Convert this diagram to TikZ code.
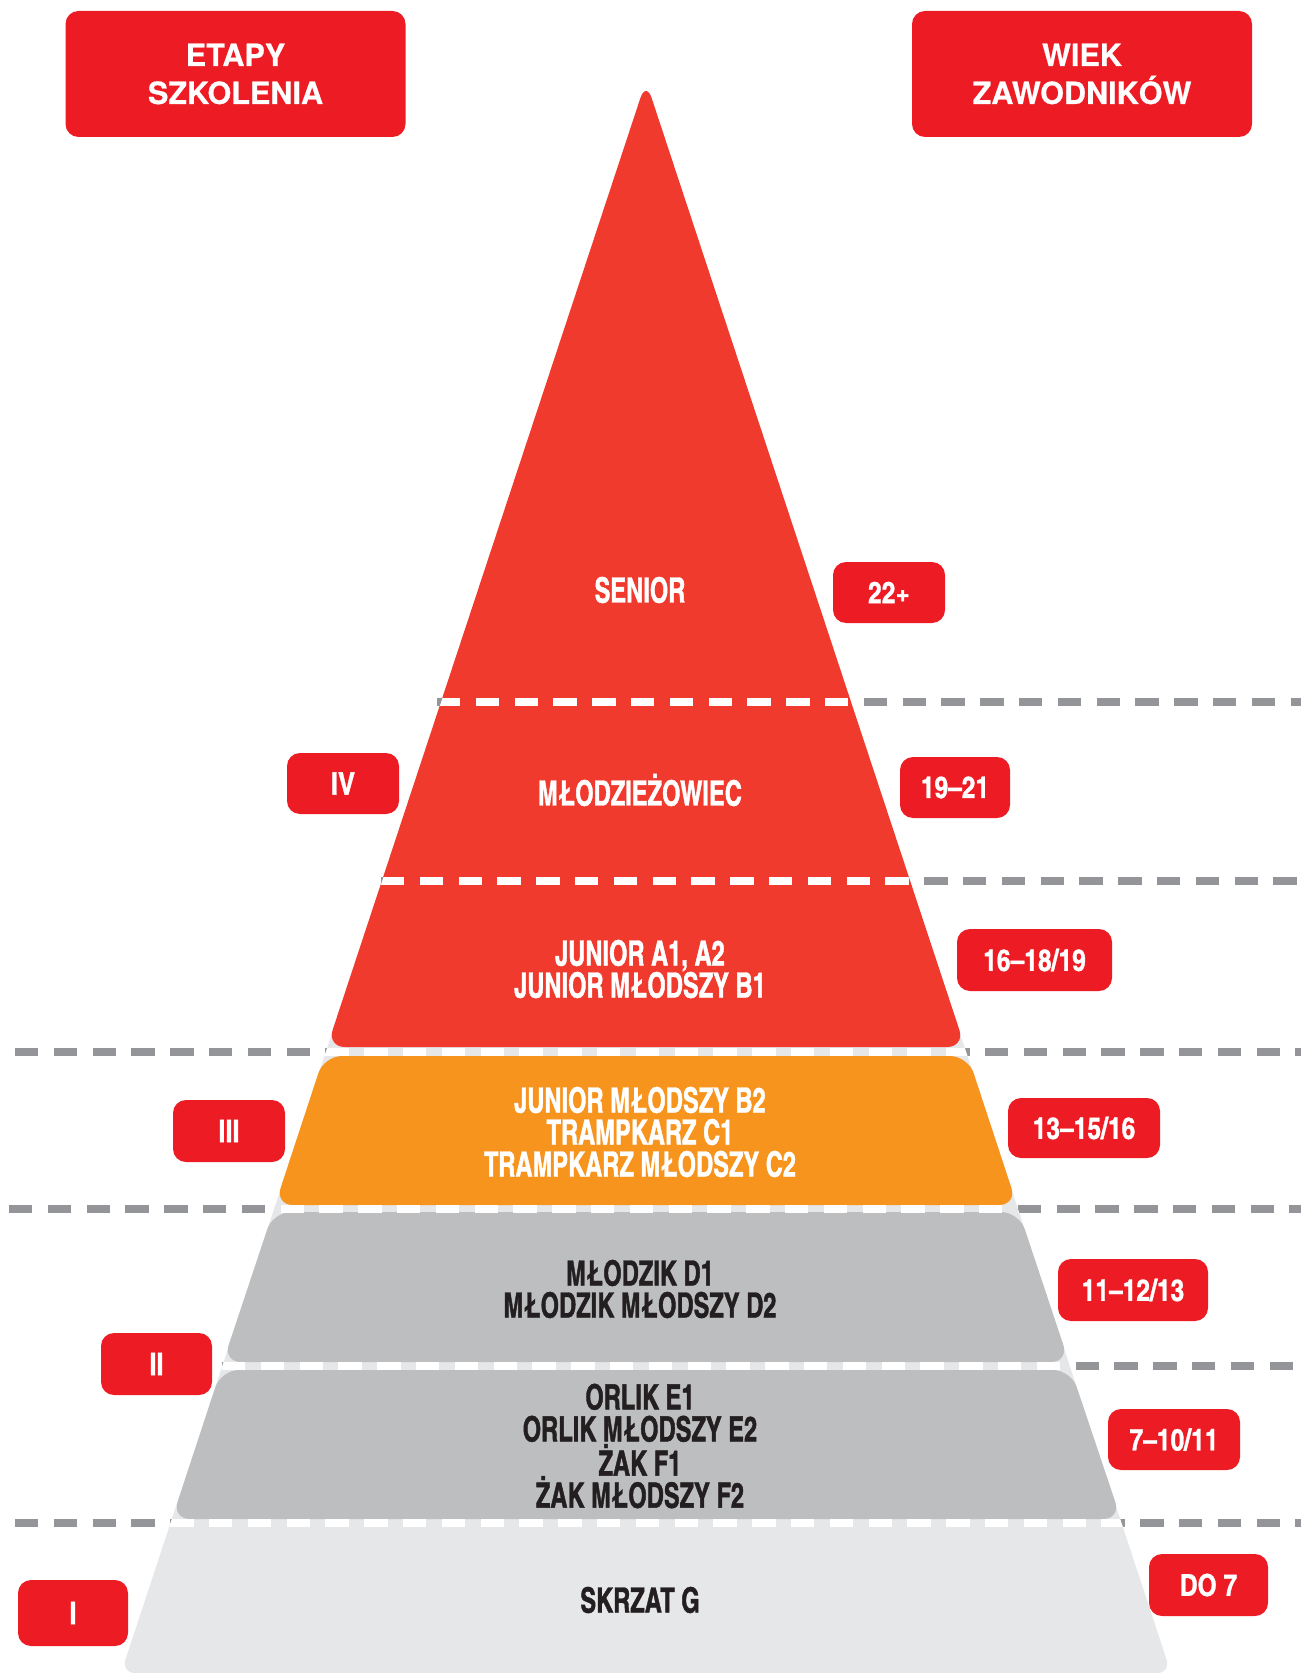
\documentclass[tikz,border=0pt]{standalone}
\usepackage{fontspec}
\newfontfamily\cnfont{texgyreheroscn-bold.otf}[FakeStretch=0.83, FakeBold=1.2]
\newfontfamily\numfont{texgyreheroscn-bold.otf}[FakeBold=1]
\newfontfamily\hdfont{texgyreheros-bold.otf}[FakeBold=0.6]
\definecolor{pyrred}{HTML}{EF3A2D}
\definecolor{badgered}{HTML}{ED1C24}
\definecolor{pyrorange}{HTML}{F7941D}
\definecolor{pyrgray}{HTML}{BCBEC0}
\definecolor{pyrlight}{HTML}{E6E7E8}
\definecolor{dashgray}{HTML}{939598}
\definecolor{darktext}{HTML}{231F20}
\tikzset{
  level line/.style={line width=4pt, dash pattern=on 11.65pt off 7.75pt},
  badge/.style={fill=badgered, rounded corners=6.5pt, text=white, inner sep=0pt,
    font=\numfont\fontsize{15}{15}\selectfont},
  head/.style={badge, font=\hdfont\fontsize{15.3}{19}\selectfont, align=center,
    minimum width=170pt, minimum height=63pt}
}
\begin{document}
\begin{tikzpicture}[x=0.5pt, y=-0.5pt,
  lbl/.style={align=center, text=white, inner sep=0pt, font=\cnfont\fontsize{17.4}{16}\selectfont},
  dark/.style={lbl, text=darktext}]
\useasboundingbox (0,0) rectangle (1306,1673);

% pyramid
\fill[pyrlight, rounded corners=7pt] (646,1673) -- (121,1673) -- (376,900) -- (916,900) -- (1171,1673) -- cycle;
\fill[pyrgray, rounded corners=9pt] (646,1519) -- (172,1519) -- (221,1370) -- (1071,1370) -- (1121,1519) -- cycle;
\fill[pyrgray, rounded corners=9pt] (646,1362) -- (223,1362) -- (273,1212) -- (1019,1212) -- (1069,1362) -- cycle;
\fill[pyrorange, rounded corners=9pt] (646,1205) -- (275,1205) -- (324,1056) -- (968,1056) -- (1017,1205) -- cycle;
\fill[pyrred, rounded corners=9pt] (646,1047) -- (327,1047) -- (646,81) -- (965,1047) -- cycle;

% level lines
\draw[level line, dashgray] (437,702) -- (1301,702);
\draw[level line, dashgray] (381,881) -- (1301,881);
\draw[level line, dashgray] (15,1052) -- (1301,1052);
\draw[level line, dashgray] (9,1209) -- (1301,1209);
\draw[level line, dashgray] (222,1366) -- (1301,1366);
\draw[level line, dashgray] (15,1523) -- (1301,1523);
\begin{scope}
  \clip (646,81) -- (1171,1673) -- (121,1673) -- cycle;
  \draw[level line, white] (437,702) -- (1301,702);
  \draw[level line, white] (381,881) -- (1301,881);
  \draw[level line, white] (15,1052) -- (1301,1052);
  \draw[level line, white] (9,1209) -- (1301,1209);
  \draw[level line, white] (222,1366) -- (1301,1366);
  \draw[level line, white] (15,1523) -- (1301,1523);
\end{scope}

% names
\node[lbl] (senior) at (640,590) {SENIOR};
\node[lbl] (mlodz) at (640,790) {MŁODZIEŻOWIEC};
\node[lbl] (junior) at (640,969) {JUNIOR A1, A2\\JUNIOR MŁODSZY B1};
\node[lbl] (tramp) at (640,1132) {JUNIOR MŁODSZY B2\\TRAMPKARZ C1\\TRAMPKARZ MŁODSZY C2};
\node[dark] (mlodzik) at (640,1289) {MŁODZIK D1\\MŁODZIK MŁODSZY D2};
\node[dark] (orlik) at (640,1446) {ORLIK E1\\ORLIK MŁODSZY E2\\ŻAK F1\\ŻAK MŁODSZY F2};
\node[dark] (skrzat) at (640,1600) {SKRZAT G};

% headers
\node[head] (etapy) at (235.5,74) {ETAPY\\SZKOLENIA};
\node[head] (wiek) at (1082,74) {WIEK\\ZAWODNIKÓW};

% stages
\node[badge, minimum width=56pt, minimum height=30.5pt, font=\numfont\fontsize{15.5}{15.5}\selectfont] (st4) at (343,783.5) {IV};
\node[badge, minimum width=56pt, minimum height=31pt, font=\numfont\fontsize{15.5}{15.5}\selectfont] (st3) at (229,1131) {III};
\node[badge, minimum width=55.5pt, minimum height=31pt, font=\numfont\fontsize{15.5}{15.5}\selectfont] (st2) at (156.5,1364) {II};
\node[badge, minimum width=55pt, minimum height=33pt, font=\numfont\fontsize{15.5}{15.5}\selectfont] (st1) at (73,1613) {I};

% ages
\node[badge, minimum width=56pt, minimum height=30.5pt] (age22) at (889,592.5) {22+};
\node[badge, minimum width=55pt, minimum height=30.5pt] (age19) at (955,787.5) {19–21};
\node[badge, minimum width=77.5pt, minimum height=31pt] (age16) at (1034.5,960) {16–18/19};
\node[badge, minimum width=76pt, minimum height=30pt] (age13) at (1084,1128) {13–15/16};
\node[badge, minimum width=75pt, minimum height=31pt] (age11) at (1133,1290) {11–12/13};
\node[badge, minimum width=66pt, minimum height=30.5pt] (age7) at (1174,1439.5) {7–10/11};
\node[badge, minimum width=59.5pt, minimum height=31pt] (age0) at (1208.5,1585) {DO 7};
\end{tikzpicture}
\end{document}
